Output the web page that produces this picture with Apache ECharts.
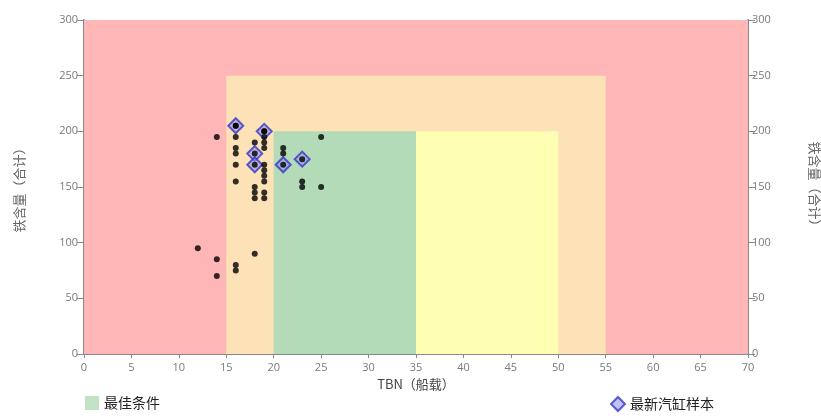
<!DOCTYPE html>
<html lang="zh">

<head>
    <meta charset="UTF-8">
    <title>铁含量 vs TBN</title>
    <script src="https://cdn.jsdelivr.net/npm/echarts@6/dist/echarts.min.js"></script>
    <style>
        * {
            margin: 0;
            padding: 0;
        }

        #main {
            width: 821px;
            height: 416px;
            background-color: #fff;
        }
    </style>
</head>

<body>
    <div id="main"></div>
    <script>
        // 坐标轴刻度
        var xTicks = [0, 5, 10, 15, 20, 25, 30, 35, 40, 45, 50, 55, 60, 65, 70];
        var yTicks = [0, 50, 100, 150, 200, 250, 300];

        // 区域: [x起, x止, y起, y止]
        var zoneRed = [0, 70, 0, 300];
        var zoneOrange = [15, 55, 0, 250];
        var zoneGreen = [20, 35, 0, 200];
        var zoneYellow = [35, 50, 0, 200];

        // 历史样本 (TBN, 铁含量)
        var sampleTbn = [14, 16, 16, 16, 16, 16, 16, 18, 18, 18, 18, 19, 19, 19, 19, 19, 19, 19, 19, 19, 19, 21, 21, 21, 23, 23, 23, 25, 25, 12, 14, 14, 16, 16, 18, 16, 19, 18, 18];
        var sampleFe = [195, 195, 185, 180, 170, 155, 205, 190, 150, 145, 140, 195, 190, 185, 170, 165, 160, 155, 145, 140, 200, 185, 180, 170, 155, 150, 175, 195, 150, 95, 85, 70, 80, 75, 90, 205, 200, 180, 170];

        // 最新汽缸样本
        var latestTbn = [16, 19, 18, 18, 21, 23];
        var latestFe = [205, 200, 180, 170, 170, 175];

        function pairs(xs, ys) {
            return xs.map(function (x, i) { return [x, ys[i]]; });
        }
        function area(z, color) {
            return [{ coord: [z[0], z[2]], itemStyle: { color: color } }, { coord: [z[1], z[3]] }];
        }

        var axisText = { color: '#7a7a7a', fontSize: 11, fontFamily: 'Open Sans' };
        var axisLine = { lineStyle: { color: '#888', width: 2 } };

        var chart = echarts.init(document.getElementById('main'));
        var option = {
            animation: false,
            grid: { left: 84, right: 73, top: 20, bottom: 62, containLabel: false, outerBoundsMode: 'none' },
            legend: [
                {
                    left: 80, top: 391,
                    data: [{ name: '最佳条件', icon: 'rect' }],
                    itemWidth: 14, itemHeight: 14, itemGap: 6,
                    textStyle: { color: '#222', fontSize: 14, fontFamily: 'Noto Sans CJK SC' }
                },
                {
                    left: 605, top: 391,
                    data: [{ name: '最新汽缸样本', icon: 'diamond' }],
                    itemWidth: 14, itemHeight: 14, itemGap: 6,
                    textStyle: { color: '#222', fontSize: 14, fontFamily: 'Noto Sans CJK SC' }
                }
            ],
            xAxis: {
                type: 'value', min: 0, max: 70, interval: 5,
                name: 'TBN（船载）', nameLocation: 'middle', nameGap: 23,
                nameTextStyle: { color: '#444', fontSize: 13, fontFamily: 'Noto Sans CJK SC' },
                axisLine: axisLine,
                axisTick: { show: true, length: 4, lineStyle: { color: '#888' } },
                axisLabel: Object.assign({ margin: 8, formatter: function (v) { return xTicks.indexOf(v) >= 0 ? v : ''; } }, axisText),
                splitLine: { show: false }
            },
            yAxis: [
                {
                    type: 'value', min: 0, max: 300, interval: 50, position: 'left',
                    name: '铁含量（合计）', nameLocation: 'middle', nameGap: 58, nameRotate: 90,
                    nameTextStyle: { color: '#666', fontSize: 13, fontFamily: 'Noto Sans CJK SC' },
                    axisLine: Object.assign({ show: true }, axisLine),
                    axisTick: { show: true, length: 7, lineStyle: { color: '#888' } },
                    axisLabel: Object.assign({ margin: 6, formatter: function (v) { return yTicks.indexOf(v) >= 0 ? v : ''; } }, axisText),
                    splitLine: { show: false }
                },
                {
                    type: 'value', min: 0, max: 300, interval: 50, position: 'right',
                    name: '铁含量（合计）', nameLocation: 'middle', nameGap: 60, nameRotate: -90,
                    nameTextStyle: { color: '#666', fontSize: 13, fontFamily: 'Noto Sans CJK SC' },
                    axisLine: Object.assign({ show: true }, axisLine),
                    axisTick: { show: true, length: 7, lineStyle: { color: '#888' } },
                    axisLabel: Object.assign({ margin: 4, formatter: function (v) { return yTicks.indexOf(v) >= 0 ? v : ''; } }, axisText),
                    splitLine: { show: false }
                }
            ],
            series: [
                {
                    name: '背景', type: 'scatter', data: [], silent: true,
                    markArea: {
                        silent: true,
                        data: [
                            area(zoneRed, '#ffb6b6'),
                            area(zoneOrange, '#fde2b8'),
                            area(zoneYellow, '#ffffb4')
                        ]
                    }
                },
                {
                    name: '最佳条件', type: 'scatter', data: [], silent: true,
                    itemStyle: { color: '#b4dbb7' },
                    markArea: {
                        silent: true,
                        data: [area(zoneGreen, '#b4dbb7')]
                    }
                },
                {
                    name: '最新汽缸样本', type: 'scatter', symbol: 'diamond', symbolSize: 15,
                    itemStyle: { color: 'rgba(150,150,235,0.75)', borderColor: '#3636c8', borderWidth: 2 },
                    data: pairs(latestTbn, latestFe), z: 3
                },
                {
                    name: '样本', type: 'scatter', symbolSize: 6,
                    itemStyle: { color: '#000' },
                    data: pairs(sampleTbn, sampleFe), z: 4
                }
            ]
        };
        chart.setOption(option);
    </script>
</body>

</html>
